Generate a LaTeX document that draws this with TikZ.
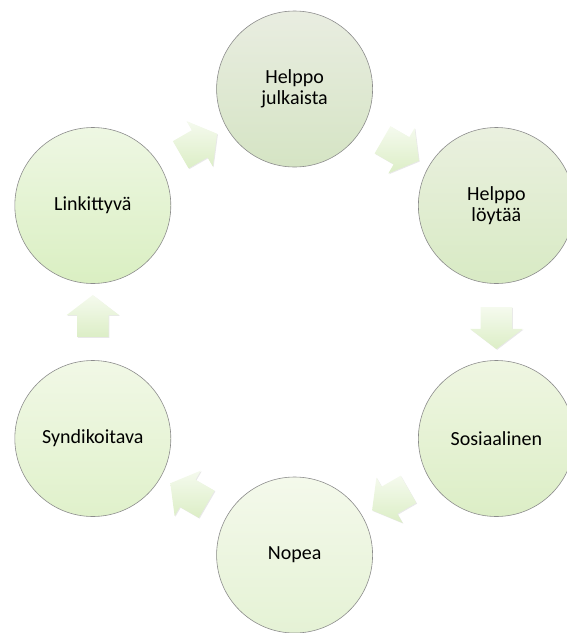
\documentclass[tikz,border=0pt]{standalone}
\usepackage{fontspec}
\setmainfont{Carlito}
\usetikzlibrary{shapes.arrows,shadows}

\definecolor{rimgray}{HTML}{8C8C8C}
\definecolor{arrowtop}{HTML}{F5FAEE}
\definecolor{arrowbot}{HTML}{DCEEC6}
\definecolor{c1top}{HTML}{E9EDE1}\definecolor{c1bot}{HTML}{D5E4C4}
\definecolor{c2top}{HTML}{EAF0DF}\definecolor{c2bot}{HTML}{D8EAC4}
\definecolor{c3top}{HTML}{EFF6E2}\definecolor{c3bot}{HTML}{DCEEC6}
\definecolor{c4top}{HTML}{F4F9EB}\definecolor{c4bot}{HTML}{E5F2D5}
\definecolor{c5top}{HTML}{F1F8E6}\definecolor{c5bot}{HTML}{E0F1CB}
\definecolor{c6top}{HTML}{EEF7E3}\definecolor{c6bot}{HTML}{DAEFC2}

\begin{document}
\begin{tikzpicture}[x=1pt,y=1pt,
  bubble/.style={circle,draw=rimgray,line width=0.6pt,minimum size=156pt,inner sep=0pt,
    align=center,font=\fontsize{20}{21}\selectfont},
  flowarrow/.style={single arrow,draw=none,inner xsep=0pt,inner ysep=15.5pt,minimum height=42pt,
    single arrow head extend=10.5pt,single arrow tip angle=105,
    top color=arrowtop,bottom color=arrowbot,
    drop shadow={opacity=0.18,shadow xshift=0.8pt,shadow yshift=-0.8pt}}]
\useasboundingbox (0,0) rectangle (566,-633);
% six circles on a ring
\foreach \i/\ang/\txt in {1/90/{Helppo\\julkaista},2/30/{Helppo\\löytää},3/-30/{Sosiaalinen},
    4/-90/{Nopea},5/-150/{Syndikoitava},6/150/{Linkittyvä}}{
  \node[bubble,top color=c\i top,bottom color=c\i bot] (n\i) at ({294.6+233*cos(\ang)},{-322+233*sin(\ang)}) {\txt};
}
% block arrows, clockwise
\foreach \a/\b in {n1/n2,n2/n3,n3/n4,n4/n5,n5/n6,n6/n1}{
  \path (\a) -- node[flowarrow,sloped,allow upside down]{} (\b);
}
\end{tikzpicture}
\end{document}
